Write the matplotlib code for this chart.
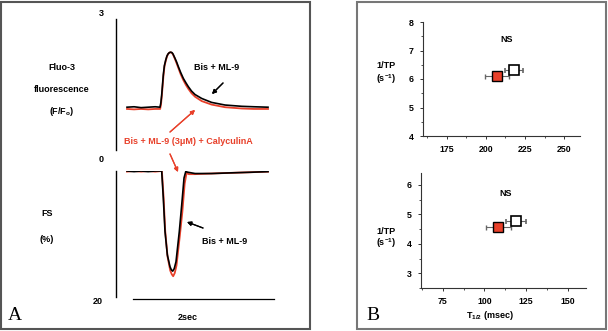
import matplotlib
matplotlib.use("Agg")
import matplotlib.pyplot as plt
from matplotlib.patches import Rectangle
from matplotlib.ticker import MultipleLocator

plt.rcParams['font.family'] = ['Liberation Sans', 'DejaVu Sans']
plt.rcParams['mathtext.default'] = 'regular'

# --- DATOS ---

# Panel A, trazo superior: Fluo-3 (F/Fo) vs tiempo (s)
t_fluo_ml9 = [0.0, 0.10, 0.20, 0.30, 0.40, 0.468, 0.480, 0.492, 0.505, 0.515, 0.530, 0.549,
              0.566, 0.582, 0.600, 0.62, 0.638, 0.652, 0.681, 0.705, 0.728, 0.760, 0.799,
              0.835, 0.870, 0.915, 0.965, 1.06, 1.20, 1.39, 1.63, 1.80, 2.0]
fluo_ml9 = [0.98, 0.99, 0.97, 0.98, 0.99, 0.98, 1.08, 1.26, 1.52, 1.72, 1.93, 2.06,
            2.15, 2.20, 2.23, 2.24, 2.23, 2.20, 2.10, 2.01, 1.91, 1.78, 1.64,
            1.54, 1.45, 1.35, 1.27, 1.18, 1.09, 1.03, 1.00, 0.99, 0.98]
t_fluo_caly = [0.0, 0.10, 0.20, 0.30, 0.40, 0.470, 0.482, 0.494, 0.507, 0.517, 0.532, 0.551,
               0.568, 0.584, 0.602, 0.62, 0.638, 0.652, 0.681, 0.705, 0.728, 0.760, 0.799,
               0.835, 0.870, 0.915, 0.965, 1.06, 1.20, 1.39, 1.63, 1.80, 2.0]
fluo_caly = [0.94, 0.93, 0.94, 0.93, 0.94, 0.94, 1.04, 1.24, 1.50, 1.70, 1.92, 2.05,
             2.15, 2.20, 2.23, 2.24, 2.22, 2.19, 2.08, 1.98, 1.88, 1.74, 1.60,
             1.49, 1.40, 1.30, 1.22, 1.12, 1.04, 0.98, 0.95, 0.94, 0.94]

# Panel A, trazo inferior: FS (%) vs tiempo (s)
t_fs_ml9 = [0.0, 0.10, 0.20, 0.30, 0.40, 0.492, 0.515, 0.539, 0.572, 0.610, 0.630, 0.648,
            0.670, 0.695, 0.742, 0.776, 0.809, 0.833, 0.865, 0.965, 1.20, 1.46, 1.75, 2.0]
fs_ml9 = [0.0, 0.1, 0.0, 0.1, 0.0, 0.0, 4.3, 9.6, 13.3, 15.2, 15.7, 15.9,
          15.5, 14.4, 9.6, 5.4, 1.1, 0.1, 0.2, 0.4, 0.4, 0.3, 0.2, 0.1]
t_fs_caly = [0.0, 0.10, 0.20, 0.30, 0.40, 0.495, 0.518, 0.542, 0.575, 0.613, 0.635, 0.655,
             0.677, 0.702, 0.750, 0.785, 0.818, 0.845, 0.875, 0.965, 1.20, 1.46, 1.75, 2.0]
fs_caly = [0.1, 0.0, 0.1, 0.0, 0.1, 0.0, 4.0, 9.5, 13.6, 15.8, 16.4, 16.7,
           16.2, 15.0, 10.2, 6.5, 2.0, 0.3, 0.5, 0.5, 0.4, 0.3, 0.2, 0.1]

# Panel B: 1/TP vs T1/2 (media +/- error)
tp_sup_ml9 = [218.0]
inv_sup_ml9 = [6.32]
err_sup_ml9 = [6.0]
tp_sup_caly = [207.0]
inv_sup_caly = [6.12]
err_sup_caly = [7.8]

thalf_ml9 = [119.0]
inv_inf_ml9 = [4.77]
err_inf_ml9 = [6.0]
thalf_caly = [108.3]
inv_inf_caly = [4.57]
err_inf_caly = [7.5]

ROJO = '#e8402a'
W, H = 608, 331


def fx(x):
    return x / W


def fy(y):
    # pixel medido desde arriba -> fraccion de figura
    return 1 - y / H


fig = plt.figure(figsize=(W / 100, H / 100), dpi=100)

# --- marcos de los paneles ---
fig.add_artist(Rectangle((fx(1), fy(329)), fx(309), 327 / H, transform=fig.transFigure,
                         fill=False, edgecolor='#555555', lw=1.5))
fig.add_artist(Rectangle((fx(357), fy(329)), fx(249), 327 / H, transform=fig.transFigure,
                         fill=False, edgecolor='#777777', lw=1.5))

# --- PANEL A ---
ax_f = fig.add_axes([fx(116), fy(150), fx(164), (150 - 19) / H])
ax_f.plot(t_fluo_caly, fluo_caly, color=ROJO, lw=1.3)
ax_f.plot(t_fluo_ml9, fluo_ml9, color='black', lw=1.2)
ax_f.set_xlim(-0.156, 2.17)
ax_f.set_ylim(0, 3)

ax_s = fig.add_axes([fx(116), fy(297), fx(164), (297 - 171) / H])
ax_s.plot(t_fs_caly, fs_caly, color=ROJO, lw=1.3)
ax_s.plot(t_fs_ml9, fs_ml9, color='black', lw=1.2)
ax_s.set_xlim(-0.156, 2.17)
ax_s.set_ylim(20, 0)
# barra de escala de 2 s
ax_s.plot([0.085, 2.085], [20.3, 20.3], color='black', lw=0.9, clip_on=False)

for ax in (ax_f, ax_s):
    for lado in ('top', 'right', 'bottom'):
        ax.spines[lado].set_visible(False)
    ax.spines['left'].set_linewidth(1.0)
    ax.set_xticks([])
    ax.set_yticks([])
    ax.patch.set_alpha(0)

txt = dict(fontsize=6.5, fontweight='bold', ha='center', va='center')
fig.text(fx(101), fy(13), '3', **txt)
fig.text(fx(101), fy(160), '0', **txt)
fig.text(fx(98), fy(301), '20', **txt)
fig.text(fx(62), fy(68), 'Fluo-3', **txt)
fig.text(fx(62), fy(89), 'fluorescence', **txt)
fig.text(fx(62), fy(111), '(F/F$_{o}$)', **txt)
fig.text(fx(47), fy(214), 'FS', **txt)
fig.text(fx(47), fy(239), '(%)', **txt)
fig.text(fx(217), fy(67), 'Bis + ML-9', **txt)
fig.text(fx(225), fy(242), 'Bis + ML-9', **txt)
fig.text(fx(188), fy(142), 'Bis + ML-9 (3μM) + CalyculinA', color=ROJO, **txt)
fig.text(fx(188), fy(318), '2sec', **txt)
fig.text(fx(15), fy(315), 'A', fontsize=14, family='Liberation Serif', ha='center', va='center')
fig.text(fx(373), fy(315), 'B', fontsize=14, family='Liberation Serif', ha='center', va='center')


def flecha(x0, y0, x1, y1, color):
    fig.add_artist(plt.annotate('', xy=(fx(x1), fy(y1)), xytext=(fx(x0), fy(y0)),
                                xycoords='figure fraction', textcoords='figure fraction',
                                arrowprops=dict(arrowstyle='-|>', color=color, lw=0.9,
                                                mutation_scale=6, shrinkA=0, shrinkB=0)))


flecha(223, 83, 212, 94, 'black')
flecha(170, 132, 195, 110, ROJO)
flecha(170, 154, 178, 172, ROJO)
flecha(203, 228, 187, 222, 'black')

# --- PANEL B ---
ax_b1 = fig.add_axes([fx(423), fy(136), fx(157), (136 - 22) / H])
ax_b2 = fig.add_axes([fx(421), fy(288), fx(165), (288 - 173) / H])

estilo_err = dict(fmt='s', ms=7, ecolor='#666666', elinewidth=0.8, capsize=1.8, capthick=0.7)

ax_b1.errorbar(tp_sup_caly, inv_sup_caly, xerr=err_sup_caly, mfc=ROJO, mec='black',
               mew=1.0, zorder=3, **estilo_err)
ax_b1.errorbar(tp_sup_ml9, inv_sup_ml9, xerr=err_sup_ml9, mfc='white', mec='black',
               mew=1.2, zorder=4, **estilo_err)
ax_b1.set_xlim(160, 260)
ax_b1.set_ylim(4, 8)
ax_b1.text(213.5, 7.37, 'NS', fontsize=6.5, fontweight='bold', ha='center', va='center')

ax_b2.errorbar(thalf_caly, inv_inf_caly, xerr=err_inf_caly, mfc=ROJO, mec='black',
               mew=1.0, zorder=3, **estilo_err)
ax_b2.errorbar(thalf_ml9, inv_inf_ml9, xerr=err_inf_ml9, mfc='white', mec='black',
               mew=1.2, zorder=4, **estilo_err)
ax_b2.set_xlim(62, 161)
ax_b2.set_ylim(2.5, 6.4)
ax_b2.text(112.5, 5.72, 'NS', fontsize=6.5, fontweight='bold', ha='center', va='center')

for ax in (ax_b1, ax_b2):
    ax.xaxis.set_major_locator(MultipleLocator(25))
    ax.xaxis.set_minor_locator(MultipleLocator(12.5))
    ax.yaxis.set_major_locator(MultipleLocator(1))
    ax.yaxis.set_minor_locator(MultipleLocator(0.5))
    ax.spines['top'].set_visible(False)
    ax.spines['right'].set_visible(False)
    for lado in ('left', 'bottom'):
        ax.spines[lado].set_linewidth(0.8)
        ax.spines[lado].set_color('#333333')
    ax.tick_params(which='major', length=2.5, width=0.7, labelsize=6.3, pad=4, color='#333333')
    ax.tick_params(which='minor', length=1.5, width=0.6, color='#333333')
    for lab in ax.get_xticklabels() + ax.get_yticklabels():
        lab.set_fontweight('bold')
    ax.patch.set_alpha(0)

fig.text(fx(386), fy(66), '1/TP', **txt)
fig.text(fx(386), fy(79), '(s$^{-1}$)', **txt)
fig.text(fx(386), fy(231), '1/TP', **txt)
fig.text(fx(386), fy(243), '(s$^{-1}$)', **txt)
fig.text(fx(490), fy(315), 'T$_{1/2}$ (msec)', **txt)

fig.savefig('out.png', dpi=100)
